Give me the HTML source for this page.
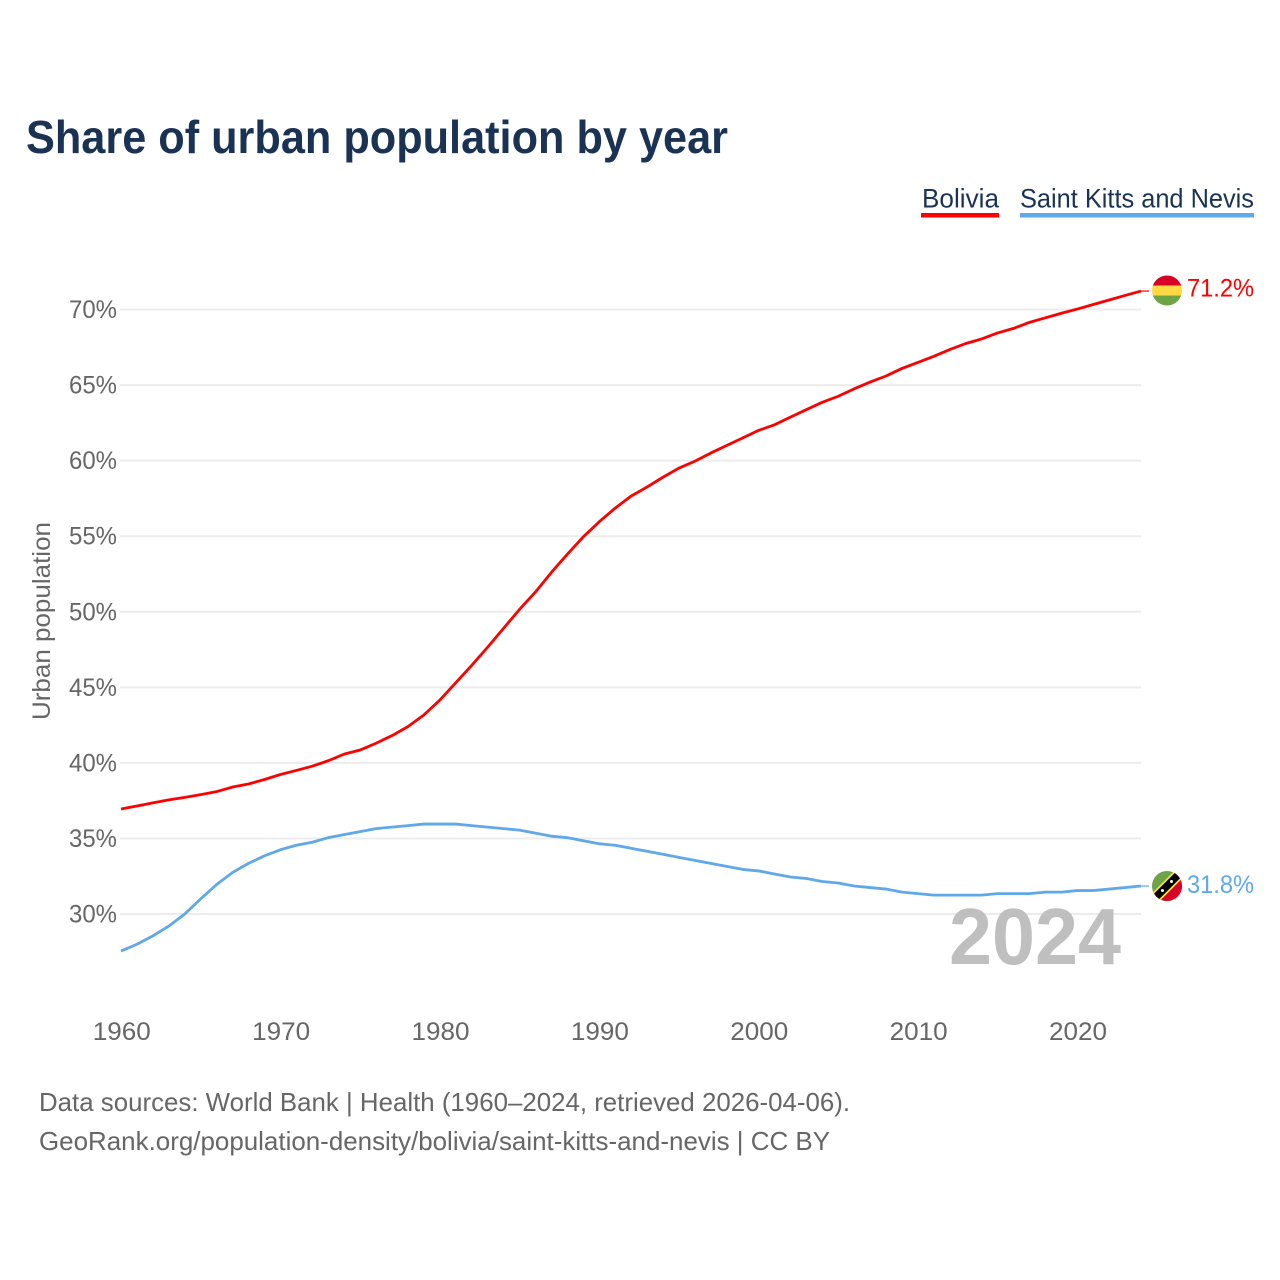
<!DOCTYPE html>
<html lang="en">
<head>
<meta charset="utf-8">
<title>Share of urban population by year</title>
<style>
html,body{margin:0;padding:0;background:#fff;width:1280px;height:1280px;overflow:hidden}
svg{display:block}
text{font-family:"Liberation Sans",sans-serif}
</style>
</head>
<body>
<svg id="chart" width="1280" height="1280" viewBox="0 0 1280 1280" xmlns="http://www.w3.org/2000/svg">
  <defs>
    <clipPath id="clip-bo"><circle cx="1167" cy="290.5" r="15"/></clipPath>
    <clipPath id="clip-kn"><circle cx="1167" cy="886" r="15"/></clipPath>
  </defs>
  <text x="26" y="153" font-size="46" font-weight="700" fill="#1a3354" textLength="702" lengthAdjust="spacingAndGlyphs">Share of urban population by year</text>

  <g>
    <g>
      <text x="922" y="207.5" font-size="27" fill="#1a3354" textLength="77" lengthAdjust="spacingAndGlyphs">Bolivia</text>
      <rect x="921" y="213" width="78" height="4.5" fill="#ff0000"/>
    </g>
    <g>
      <text x="1020" y="207.5" font-size="27" fill="#1a3354" textLength="234" lengthAdjust="spacingAndGlyphs">Saint Kitts and Nevis</text>
      <rect x="1020" y="213" width="234" height="4.5" fill="#5fa8ea"/>
    </g>
  </g>

  <text transform="translate(50,621) rotate(-90)" text-anchor="middle" font-size="25" fill="#666666" textLength="198" lengthAdjust="spacingAndGlyphs">Urban population</text>

  <g id="grid"></g>
  <g id="y-ticks"></g>
  <g id="x-ticks"></g>

  <text x="949" y="964" font-size="80" font-weight="700" fill="#bfbfbf" textLength="172" lengthAdjust="spacingAndGlyphs">2024</text>

  <g id="series"></g>

  <g clip-path="url(#clip-bo)">
    <rect x="1150" y="275" width="34" height="11" fill="#d80027"/>
    <rect x="1150" y="285.5" width="34" height="10" fill="#ffda44"/>
    <rect x="1150" y="295.5" width="34" height="11" fill="#6da544"/>
  </g>
  <g clip-path="url(#clip-kn)">
    <rect x="1150" y="869" width="34" height="34" fill="#6da544"/>
    <polygon points="1184,869 1184,903 1150,903" fill="#d80027"/>
    <line x1="1155" y1="898" x2="1179" y2="874" stroke="#ffda44" stroke-width="11"/>
    <line x1="1155" y1="898" x2="1179" y2="874" stroke="#000000" stroke-width="7.5"/>
    <circle cx="1162.5" cy="890.5" r="1.5" fill="#ffffff"/>
    <circle cx="1171.5" cy="881.5" r="1.5" fill="#ffffff"/>
  </g>

  <text x="1187" y="296.5" font-size="25" fill="#ff0000" textLength="67" lengthAdjust="spacingAndGlyphs">71.2%</text>
  <text x="1187" y="893" font-size="25" fill="#5fa8ea" textLength="67" lengthAdjust="spacingAndGlyphs">31.8%</text>

  <g>
    <text x="39" y="1111" font-size="26" fill="#666666" textLength="811" lengthAdjust="spacingAndGlyphs">Data sources: World Bank | Health (1960–2024, retrieved 2026-04-06).</text>
    <text x="39" y="1150" font-size="26" fill="#666666" textLength="791" lengthAdjust="spacingAndGlyphs">GeoRank.org/population-density/bolivia/saint-kitts-and-nevis | CC BY</text>
  </g>
</svg>
<script>
var firstYear = 1960;
var yTickValues = [30, 35, 40, 45, 50, 55, 60, 65, 70];
var xTickValues = [1960, 1970, 1980, 1990, 2000, 2010, 2020];
var boliviaValues = [36.95,37.15,37.35,37.55,37.72,37.9,38.1,38.4,38.6,38.9,39.23,39.5,39.78,40.14,40.58,40.85,41.3,41.8,42.4,43.17,44.15,45.3,46.45,47.65,48.9,50.15,51.3,52.6,53.8,54.95,55.95,56.85,57.65,58.25,58.9,59.5,59.96,60.5,61.0,61.5,62.0,62.37,62.88,63.37,63.86,64.26,64.75,65.2,65.6,66.1,66.5,66.9,67.35,67.75,68.05,68.45,68.75,69.15,69.45,69.75,70.03,70.33,70.63,70.93,71.22];
var kittsValues = [27.55,28.0,28.55,29.2,30.0,31.0,31.95,32.75,33.35,33.85,34.25,34.55,34.75,35.05,35.25,35.45,35.65,35.75,35.85,35.95,35.95,35.95,35.85,35.75,35.65,35.55,35.35,35.15,35.05,34.85,34.65,34.55,34.35,34.15,33.95,33.75,33.55,33.35,33.15,32.95,32.85,32.65,32.45,32.35,32.15,32.05,31.85,31.75,31.65,31.45,31.35,31.25,31.25,31.25,31.25,31.35,31.35,31.35,31.45,31.45,31.55,31.55,31.65,31.75,31.85];

var NS = 'http://www.w3.org/2000/svg';
function xScale(year) { return 121 + (year - 1960) * (1141 - 121) / 64; }
function yScale(value) { return 914 - (value - 30) * (914 - 309.5) / 40; }
function make(tag, attrs, parent) {
  var el = document.createElementNS(NS, tag);
  for (var k in attrs) { el.setAttribute(k, attrs[k]); }
  parent.appendChild(el);
  return el;
}

var gridGroup = document.getElementById('grid');
var yGroup = document.getElementById('y-ticks');
yTickValues.forEach(function (v) {
  var y = yScale(v);
  var line = make('line', {x1: 120, x2: 1141, y1: y, y2: y, stroke: '#ececec', 'stroke-width': 2}, gridGroup);
  
  
  var label = make('text', {x: 117, y: y + 8.5, 'text-anchor': 'end', 'font-size': 25, fill: '#666666', textLength: 48, lengthAdjust: 'spacingAndGlyphs'}, yGroup);
  
  
  label.textContent = v + '%';
});

var xGroup = document.getElementById('x-ticks');
xTickValues.forEach(function (yr) {
  var label = make('text', {x: xScale(yr) + 0.8, y: 1040, 'text-anchor': 'middle', 'font-size': 25, fill: '#666666', textLength: 58, lengthAdjust: 'spacingAndGlyphs'}, xGroup);
  
  
  label.textContent = yr;
});

function pathFor(values) {
  return values.map(function (v, i) {
    return (i ? 'L' : 'M') + xScale(firstYear + i).toFixed(2) + ' ' + yScale(v).toFixed(2);
  }).join(' ');
}
var seriesGroup = document.getElementById('series');

var blueLine = make('path', {d: pathFor(kittsValues), fill: 'none', stroke: '#5fa8ea', 'stroke-width': 2.8, 'stroke-linejoin': 'round'}, seriesGroup);



var redLine = make('path', {d: pathFor(boliviaValues), fill: 'none', stroke: '#ff0000', 'stroke-width': 2.8, 'stroke-linejoin': 'round'}, seriesGroup);



var lastYear = firstYear + boliviaValues.length - 1;
var boY = yScale(boliviaValues[boliviaValues.length - 1]);
var knY = yScale(kittsValues[kittsValues.length - 1]);
var leaderBo = make('line', {x1: xScale(lastYear), x2: 1149, y1: boY, y2: boY, stroke: '#ff0000', 'stroke-width': 1.2}, seriesGroup);


var leaderKn = make('line', {x1: xScale(lastYear), x2: 1149, y1: knY, y2: knY, stroke: '#5fa8ea', 'stroke-width': 1.2}, seriesGroup);


</script>
</body>
</html>
